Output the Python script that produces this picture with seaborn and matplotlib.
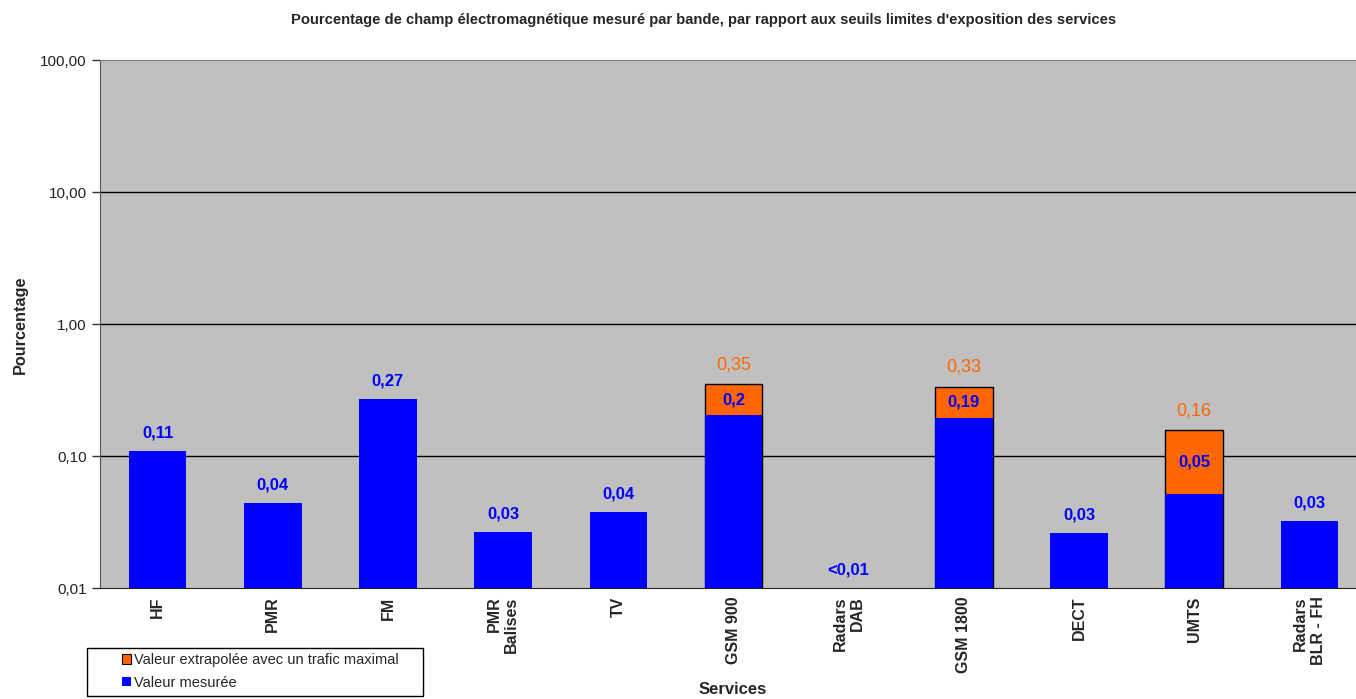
import matplotlib
matplotlib.use("Agg")
import matplotlib.pyplot as plt
import numpy as np
import pandas as pd
import seaborn as sns
from matplotlib.patches import Patch, Rectangle
from matplotlib.ticker import FixedLocator, FuncFormatter, NullLocator

services = ["HF", "PMR", "FM", "PMR\nBalises", "TV", "GSM 900", "Radars\nDAB",
            "GSM 1800", "DECT", "UMTS", "Radars\nBLR - FH"]
mesure = [0.109, 0.044, 0.27, 0.0265, 0.0375, 0.205, np.nan, 0.194, 0.026, 0.0515, 0.032]
extrapole = [np.nan, np.nan, np.nan, np.nan, np.nan, 0.35, np.nan, 0.335, np.nan, 0.157, np.nan]
mesure_labels = ["0,11", "0,04", "0,27", "0,03", "0,04", "0,2", "<0,01", "0,19", "0,03", "0,05", "0,03"]
extrapole_labels = [None, None, None, None, None, "0,35", None, "0,33", None, "0,16", None]
y_ticks = [0.01, 0.1, 1, 10, 100]

BLUE = "#0000FF"
ORANGE = "#FF6600"
W, H = 1356, 699

df = pd.DataFrame({"service": services, "mesure": mesure, "extrapole": extrapole})

sns.set_style("white")
plt.rcParams["font.family"] = ["Liberation Sans", "DejaVu Sans"]

fig = plt.figure(figsize=(W / 100, H / 100), dpi=100)
ax = fig.add_axes([100 / W, 111 / H, 1267 / W, 528 / H])
ax.set_facecolor("#C0C0C0")

sns.barplot(data=df, x="service", y="extrapole", order=services, color=ORANGE,
            saturation=1, edgecolor="black", linewidth=1, width=0.5, ax=ax)
sns.barplot(data=df, x="service", y="mesure", order=services, color=BLUE,
            saturation=1, linewidth=0, width=0.5, ax=ax)

ax.set_yscale("log")
ax.set_ylim(0.01, 100)
ax.set_xlim(-0.5, len(services) - 0.5)
ax.yaxis.set_major_locator(FixedLocator(y_ticks))
ax.yaxis.set_minor_locator(NullLocator())
ax.yaxis.set_major_formatter(FuncFormatter(lambda v, p: f"{v:.2f}".replace(".", ",")))
ax.grid(False)
for v in y_ticks[1:-1]:
    ax.axhline(v, color="black", linewidth=1, zorder=0.5)

ax.set_xticks(range(len(services)))
ax.set_xticklabels(services, rotation=90, fontweight="bold", fontsize=11.5,
                   va="top", ha="center", multialignment="right")
ax.set_xticks(np.arange(-0.5, len(services)), minor=True)
ax.tick_params(axis="x", which="major", length=0, pad=6)
ax.tick_params(axis="x", which="minor", length=6, width=1, color="#333333", direction="out")
ax.tick_params(axis="y", which="major", length=6, width=1, color="#333333",
               direction="out", labelsize=11, labelcolor="#222222", left=True)
ax.set_xlabel("")
ax.set_ylabel("")

ax.spines["right"].set_visible(False)
ax.spines["top"].set_color("#808080")
ax.spines["left"].set_color("#555555")
ax.spines["bottom"].set_color("#222222")

for i in range(len(services)):
    m = mesure[i]
    e = extrapole[i]
    if not np.isnan(e):
        ax.annotate(extrapole_labels[i], (i, e), xytext=(0, 14), textcoords="offset points",
                    ha="center", va="center", color=ORANGE, fontsize=13)
        ax.annotate(mesure_labels[i], (i, np.sqrt(m * e)), ha="center", va="center",
                    color=BLUE, fontsize=12, fontweight="bold")
    else:
        y = 0.01 if np.isnan(m) else m
        ax.annotate(mesure_labels[i], (i, y), xytext=(0, 13), textcoords="offset points",
                    ha="center", va="center", color=BLUE, fontsize=12, fontweight="bold")

fig.text(704 / W, 1 - 20 / H,
         "Pourcentage de champ électromagnétique mesuré par bande, par rapport aux seuils limites d'exposition des services",
         ha="center", va="center", fontsize=10.6, fontweight="bold")
fig.text(20 / W, 1 - 325 / H, "Pourcentage", rotation=90, ha="center", va="center",
         fontsize=11.7, fontweight="bold")
fig.text(733 / W, 1 - 690 / H, "Services", ha="center", va="center",
         fontsize=12, fontweight="bold")

# legend box drawn by hand so its padding matches the original
fig.patches.append(Rectangle((87 / W, 1 - 696 / H), 336 / W, 48 / H,
                             transform=fig.transFigure, facecolor="white",
                             edgecolor="black", linewidth=1, zorder=5))
handles = [Patch(facecolor=ORANGE, edgecolor="black", linewidth=0.8),
           Patch(facecolor=BLUE, edgecolor="none")]
leg = fig.legend(handles, ["Valeur extrapolée avec un trafic maximal", "Valeur mesurée"],
                 loc="upper left", bbox_to_anchor=(122 / W, 1 - 653 / H),
                 frameon=False, fontsize=10.5, handlelength=0.65, handleheight=0.65,
                 handletextpad=0.2, borderpad=0, labelspacing=0.6, borderaxespad=0)
leg.set_zorder(6)

fig.savefig("out.png", dpi=100, facecolor="white")
